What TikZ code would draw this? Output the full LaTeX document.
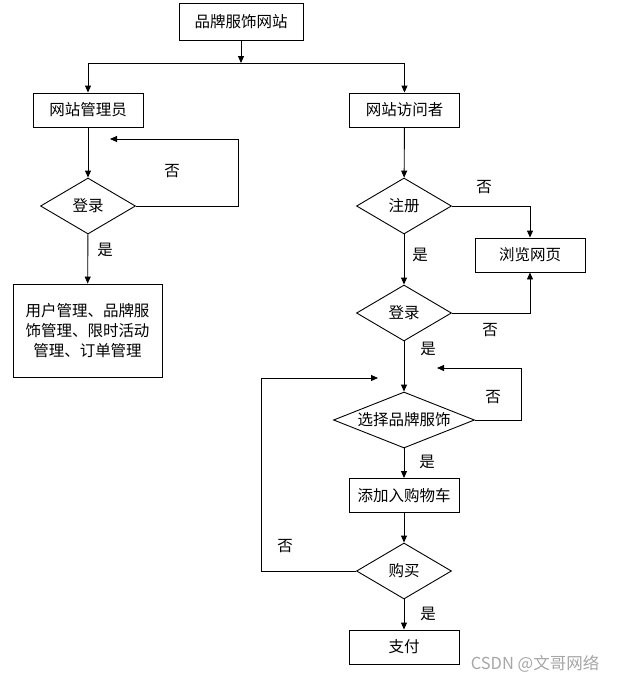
\documentclass[tikz,border=0pt]{standalone}
\usepackage{fontspec}
\setmainfont{Noto Sans CJK SC}
\usetikzlibrary{arrows.meta, positioning, shapes.geometric}

\tikzset{
  box/.style={draw, line width=0.9pt, minimum width=110pt, minimum height=34pt, inner sep=0pt},
  decision/.style={draw, diamond, aspect=1.7, line width=0.9pt, minimum width=95pt,
                   minimum height=56pt, inner sep=0pt},
  flow/.style={line width=0.9pt, -{Triangle[length=7pt,width=6pt]}},
  tag/.style={inner sep=0pt},
}

\begin{document}
\begin{tikzpicture}[x=1pt,y=-1pt,font=\fontsize{15.5}{20}\selectfont]
  \useasboundingbox (0,0) rectangle (619,683);
  % top
  \node[box,minimum width=124pt,minimum height=37pt] (site) at (241,21.5) {品牌服饰网站};
  \coordinate (split) at (241,63);
  \node[box] (admin) at (88,110) {网站管理员};
  \node[box] (visitor) at (404.5,110) {网站访问者};
  \draw[flow] (site) -- (split);
  \draw[flow] (split) -| (admin);
  \draw[flow] (split) -| (visitor);
  % admin side
  \node[decision] (login1) at (88,206) {登录};
  \node[box,minimum width=149pt,minimum height=93pt,align=center] (manage) at (87.5,330.5)
       {用户管理、品牌服\\饰管理、限时活动\\管理、订单管理};
  \coordinate (back1) at (110,139);
  \draw[flow] (admin) -- (login1);
  \draw[flow] (login1.east) -- ++(102,0) |- (back1);
  \draw[flow] (login1) -- (manage);
  \node[tag] (no1) at (172,171) {否};
  \node[tag] (yes1) at (105,250) {是};
  % visitor side
  \node[decision] (reg) at (404,206) {注册};
  \node[box] (browse) at (530,255) {浏览网页};
  \node[decision] (login2) at (404,313) {登录};
  \node[decision,aspect=2.5,minimum width=141pt] (choose) at (404,420) {选择品牌服饰};
  \node[box] (cart) at (404,495.5) {添加入购物车};
  \node[decision] (buy) at (404,571) {购买};
  \node[box] (pay) at (404,647) {支付};
  \coordinate (back2) at (437,368);
  \coordinate (back3) at (378,378);
  \draw[flow] (visitor) -- (reg);
  \draw[flow] (reg.east) -| (browse);
  \draw[flow] (reg) -- (login2);
  \draw[flow] (login2.east) -| (browse);
  \draw[flow] (login2) -- (choose);
  \draw[flow] (choose.east) -- ++(46,0) |- (back2);
  \draw[flow] (choose) -- (cart);
  \draw[flow] (cart) -- (buy);
  \draw[flow] (buy.west) -- ++(-95,0) |- (back3);
  \draw[flow] (buy) -- (pay);
  \node[tag] (no2) at (484,187) {否};
  \node[tag] (yes2) at (420,255) {是};
  \node[tag] (no3) at (490,330) {否};
  \node[tag] (yes3) at (428,349) {是};
  \node[tag] (no4) at (493,397) {否};
  \node[tag] (yes4) at (427,462) {是};
  \node[tag] (no5) at (285,546) {否};
  \node[tag] (yes5) at (428,614) {是};
  % watermark
  \node[tag,gray!70,font=\fontsize{16.5}{20}\selectfont] (mark) at (535,664) {CSDN @文哥网络};
\end{tikzpicture}
\end{document}
